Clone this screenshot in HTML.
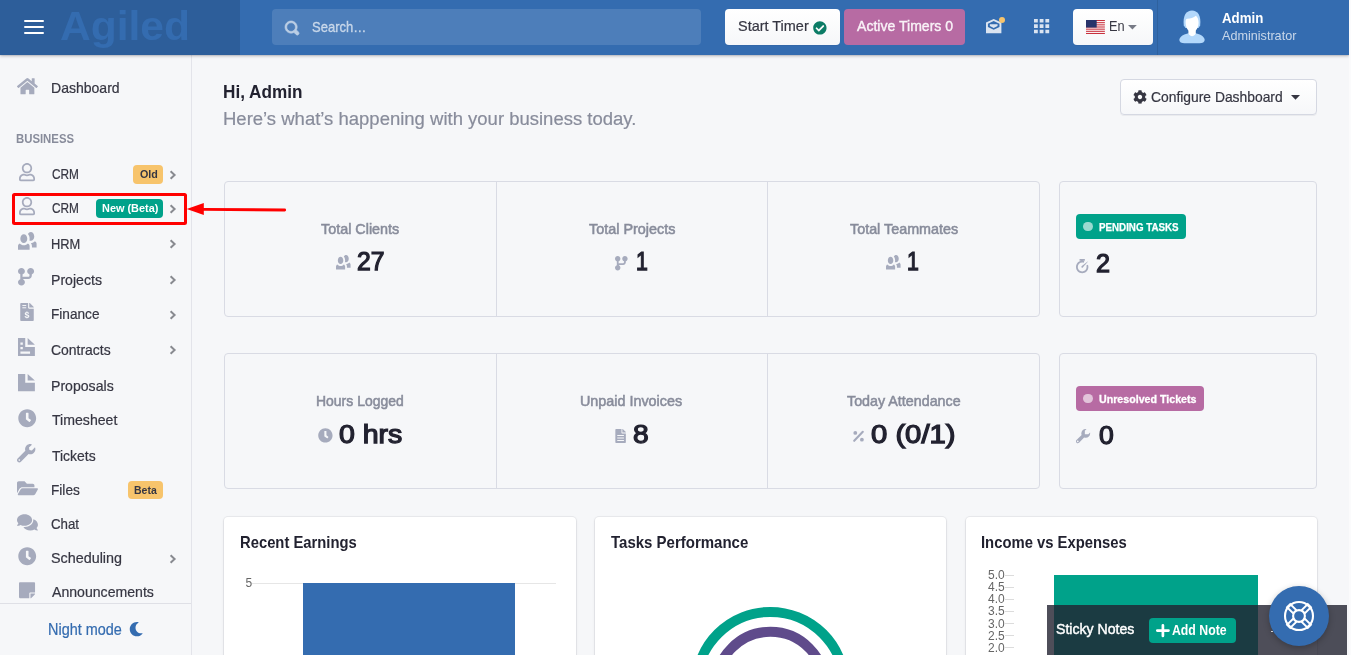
<!DOCTYPE html><html lang="en"><head><meta charset="utf-8"><title>Agiled Dashboard</title><style>
*{box-sizing:border-box}
html,body{margin:0;padding:0;background:#f6f7f9}
body{width:1351px;height:655px;overflow:hidden;font-family:"Liberation Sans",Arial,sans-serif}
#app{position:relative;width:1351px;height:655px;overflow:hidden;background:#f6f7f9;will-change:transform}
#app div,#app svg,#app span{position:absolute}
.t{white-space:nowrap;line-height:1;transform-origin:0 50%;display:block}
.ic{display:block;overflow:visible}
.topbar{left:0;top:0;width:1349px;height:55px;background:#346cb0;box-shadow:0 1px 3px rgba(20,20,31,.28),0 0 0 1px rgba(20,20,31,.05)}
.brand{left:0;top:0;width:240px;height:55px;background:rgba(0,0,0,.12)}
.bar{left:24px;width:20px;height:2px;background:#fff;border-radius:1px}
.search{left:272px;top:9px;width:429px;height:36px;border-radius:4px;background:rgba(255,255,255,.125)}
.btnw{background:linear-gradient(180deg,#fff,#f6f7f9);border-radius:4px;box-shadow:0 1px 0 rgba(20,20,31,.05)}
.card0{border:1px solid #d9dbe4;border-radius:4px}
.vsep{width:1px;background:#d9dbe4}
.cardw{background:#fff;border-radius:4px;box-shadow:0 0 0 1px rgba(20,20,31,.05),0 1px 3px 0 rgba(20,20,31,.1)}
.badge{border-radius:4px}
</style></head><body><div id="app">
<main>
<div class="btnw" style="left:1120px;top:79px;width:197px;height:36px;border:1px solid #d5d8e2"></div>
<svg class="ic" style="left:1132.75px;top:90.00px;width:13.99px;height:13.99px" viewBox="0 0 512 512" preserveAspectRatio="none"><path fill="#363642" d="M487.4 315.7l-42.600-24.600c4.300-23.200 4.300-47 0-70.200l42.600-24.600c4.900-2.800 7.100-8.600 5.500-14-11.100-35.600-30-67.800-54.700-94.600-3.800-4.100-10-5.100-14.800-2.300L380.800 110c-17.900-15.400-38.500-27.300-60.800-35.100V25.800c0-5.600-3.900-10.500-9.400-11.700-36.700-8.200-74.300-7.800-109.200 0-5.500 1.200-9.400 6.100-9.400 11.700V75c-22.200 7.900-42.800 19.800-60.800 35.100L88.700 85.500c-4.900-2.800-11-1.900-14.800 2.300-24.700 26.700-43.600 58.900-54.700 94.600-1.700 5.400.6 11.200 5.500 14L67.300 221c-4.300 23.200-4.300 47 0 70.200l-42.600 24.600c-4.900 2.800-7.100 8.600-5.500 14 11.100 35.600 30 67.800 54.700 94.600 3.800 4.100 10 5.100 14.800 2.300l42.600-24.600c17.900 15.400 38.500 27.300 60.800 35.100v49.200c0 5.600 3.900 10.500 9.400 11.700 36.700 8.200 74.300 7.800 109.200 0 5.500-1.200 9.400-6.100 9.400-11.700v-49.200c22.200-7.900 42.800-19.800 60.800-35.100l42.600 24.600c4.900 2.800 11 1.900 14.800-2.300 24.700-26.700 43.600-58.900 54.700-94.600 1.500-5.500-.7-11.300-5.600-14.100zM256 336c-44.100 0-80-35.900-80-80s35.900-80 80-80 80 35.900 80 80-35.900 80-80 80z"/></svg>
<svg class="ic" style="left:1291px;top:95px;width:9px;height:5px" viewBox="0 0 9 5"><path d="M0 0h9L4.500 4.800z" fill="#363642"/></svg>
<div class="card0" style="left:224px;top:181px;width:816px;height:136px"></div>
<div class="vsep" style="left:496px;top:181px;height:136px"></div>
<div class="vsep" style="left:767px;top:181px;height:136px"></div>
<div class="card0" style="left:1059px;top:181px;width:258px;height:136px"></div>
<div class="card0" style="left:224px;top:353px;width:816px;height:136px"></div>
<div class="vsep" style="left:496px;top:353px;height:136px"></div>
<div class="vsep" style="left:767px;top:353px;height:136px"></div>
<div class="card0" style="left:1059px;top:353px;width:258px;height:136px"></div>
<svg class="ic" style="left:336.20px;top:255.30px;width:14.59px;height:14.59px" viewBox="0 0 8 8" preserveAspectRatio="none"><path fill="#a6abbd" d="M5.5 0c-.51 0-.95.35-1.220.88.45.54.72 1.280.72 2.130 0 .29-.03.55-.09.81.19.11.38.19.59.19.83 0 1.500-.9 1.500-2s-.67-2-1.500-2zm-3 1c-.83 0-1.500.9-1.500 2s.67 2 1.500 2 1.500-.9 1.500-2-.67-2-1.500-2zm4.750 3.160c-.43.51-1.020.82-1.690.84.27.38.44.84.44 1.340v.66h2v-1.660c0-.52-.31-.97-.75-1.190zm-6.500 1c-.44.22-.75.67-.75 1.190v1.660h5v-1.660c0-.52-.31-.97-.75-1.190-.45.53-1.060.84-1.750.84s-1.300-.32-1.750-.84z"/></svg>
<svg class="ic" style="left:614.68px;top:255.71px;width:14.46px;height:14.46px" viewBox="0 0 8 8" preserveAspectRatio="none"><path fill="#a6abbd" d="M1.5 0c-.83 0-1.500.67-1.500 1.500 0 .66.41 1.200 1 1.410v2.190c-.59.2-1 .75-1 1.410 0 .83.67 1.500 1.500 1.500s1.500-.67 1.500-1.500c0-.6-.34-1.100-.84-1.340.09-.09.21-.16.34-.16h2c.82 0 1.500-.68 1.500-1.500v-.59c.59-.2 1-.75 1-1.410 0-.83-.67-1.500-1.500-1.500s-1.500.67-1.500 1.500c0 .66.41 1.200 1 1.410v.59c0 .28-.22.5-.5.5h-2c-.17 0-.35.04-.5.09v-1.190c.59-.2 1-.75 1-1.410 0-.83-.67-1.500-1.500-1.500z"/></svg>
<svg class="ic" style="left:886.20px;top:255.30px;width:14.59px;height:14.59px" viewBox="0 0 8 8" preserveAspectRatio="none"><path fill="#a6abbd" d="M5.5 0c-.51 0-.95.35-1.220.88.45.54.72 1.280.72 2.130 0 .29-.03.55-.09.81.19.11.38.19.59.19.83 0 1.500-.9 1.500-2s-.67-2-1.500-2zm-3 1c-.83 0-1.500.9-1.500 2s.67 2 1.500 2 1.500-.9 1.500-2-.67-2-1.500-2zm4.750 3.160c-.43.51-1.020.82-1.690.84.27.38.44.84.44 1.340v.66h2v-1.660c0-.52-.31-.97-.75-1.190zm-6.500 1c-.44.22-.75.67-.75 1.190v1.660h5v-1.660c0-.52-.31-.97-.75-1.190-.45.53-1.060.84-1.750.84s-1.300-.32-1.750-.84z"/></svg>
<svg class="ic" style="left:1075.95px;top:258.72px;width:14.16px;height:14.16px" viewBox="0 0 8 8" preserveAspectRatio="none"><path fill="#a6abbd" d="M2 0v1h1v.03c-1.700.24-3 1.710-3 3.470 0 1.930 1.570 3.500 3.500 3.500s3.500-1.570 3.500-3.500c0-.45-.1-.87-.25-1.250l-.91.38c.11.29.16.57.16.88 0 1.390-1.110 2.500-2.500 2.500s-2.500-1.110-2.500-2.500 1.110-2.500 2.500-2.500c.3 0 .59.05.88.16l.34-.94c-.24-.09-.47-.16-.72-.19v-.03h1v-1h-3zm5 1.160s-3.650 2.810-3.840 3c-.19.2-.19.49 0 .69.190.2.490.2.690 0 .2-.2 3.160-3.690 3.160-3.690z"/></svg>
<svg class="ic" style="left:318.14px;top:428.09px;width:14.81px;height:14.81px" viewBox="0 0 512 512" preserveAspectRatio="none"><path fill="#a6abbd" d="M256 8C119 8 8 119 8 256s111 248 248 248 248-111 248-248S393 8 256 8zm57.1 350.1L224.9 294c-3.1-2.3-4.9-5.9-4.9-9.7V116c0-6.6 5.4-12 12-12h48c6.6 0 12 5.400 12 12v137.7l63.5 46.2c5.4 3.9 6.5 11.4 2.6 16.8l-28.2 38.800c-3.9 5.3-11.4 6.500-16.8 2.600z"/></svg>
<svg class="ic" style="left:615px;top:428.8px;width:11.2px;height:14px" viewBox="0 0 384 512"><path fill="#a6abbd" d="M224 136V0H24C10.700 0 0 10.700 0 24v464c0 13.300 10.700 24 24 24h336c13.300 0 24-10.700 24-24V160H248c-13.200 0-24-10.800-24-24zm160-14.100v6.100H256V0h6.100c6.400 0 12.500 2.500 17 7l97.900 98c4.500 4.500 7 10.600 7 16.900z"/><path d="M70 240h244M70 330h244M70 420h244" stroke="#f6f7f9" stroke-width="40"/></svg>
<svg class="ic" style="left:853px;top:429.500px;width:11px;height:12px" viewBox="0 0 11 12"><path d="M1.200 10.800L9.800 1.800" stroke="#a6abbd" stroke-width="2.100" stroke-linecap="round"/><circle cx="2.300" cy="2.900" r="1.900" fill="#a6abbd"/><circle cx="8.900" cy="9.700" r="1.900" fill="#a6abbd"/></svg>
<svg class="ic" style="left:1075.79px;top:428.73px;width:14.12px;height:14.12px" viewBox="0 0 8 8" preserveAspectRatio="none"><path fill="#a6abbd" d="M5.5 0c-1.380 0-2.500 1.120-2.500 2.500 0 .32.08.62.19.91l-2.910 2.880c-.39.39-.39 1.050 0 1.440.2.2.46.28.72.28.26 0 .52-.09.72-.28l2.880-2.910c.28.11.58.19.91.19 1.380 0 2.500-1.120 2.500-2.500 0-.16 0-.32-.03-.47l-.97.97h-2v-2l.97-.97c-.15-.03-.31-.03-.47-.03zm-4.500 6.500c.28 0 .5.22.5.5s-.22.5-.5.5-.5-.22-.5-.5.22-.5.5-.5z"/></svg>
<div class="badge" style="left:1076px;top:214px;width:110px;height:25px;background:#00a28a"></div>
<div style="left:1083.200px;top:221.600px;width:9.600px;height:9.600px;border-radius:50%;background:rgba(255,255,255,.6)"></div>
<div class="badge" style="left:1076px;top:386px;width:128px;height:25px;background:#b76ba3"></div>
<div style="left:1083.200px;top:393.600px;width:9.600px;height:9.600px;border-radius:50%;background:rgba(255,255,255,.6)"></div>
<div class="cardw" style="left:224px;top:517px;width:351.500px;height:160px"></div>
<div class="cardw" style="left:595px;top:517px;width:351.200px;height:160px"></div>
<div class="cardw" style="left:965.600px;top:517px;width:351.600px;height:160px"></div>
<div style="left:252px;top:583px;width:304px;height:1px;background:#e6e6e6"></div>
<div style="left:303.300px;top:583px;width:211.500px;height:80px;background:#346cb0"></div>
<svg class="ic" style="left:680px;top:600px;width:180px;height:60px" viewBox="680 600 180 60"><circle cx="770.400" cy="686.100" r="74.200" fill="none" stroke="#00a28a" stroke-width="10"/><circle cx="770.400" cy="686.100" r="54.300" fill="none" stroke="#5f4b8b" stroke-width="10"/></svg>
<div style="left:1005px;top:574.60px;width:9px;height:1px;background:#dcdcdc"></div>
<div style="left:1005px;top:586.63px;width:9px;height:1px;background:#dcdcdc"></div>
<div style="left:1005px;top:598.66px;width:9px;height:1px;background:#dcdcdc"></div>
<div style="left:1005px;top:610.69px;width:9px;height:1px;background:#dcdcdc"></div>
<div style="left:1005px;top:622.72px;width:9px;height:1px;background:#dcdcdc"></div>
<div style="left:1005px;top:634.75px;width:9px;height:1px;background:#dcdcdc"></div>
<div style="left:1005px;top:646.78px;width:9px;height:1px;background:#dcdcdc"></div>
<div style="left:1054px;top:575px;width:204px;height:90px;background:#00a28a"></div>
<span class="t" style="left:223.26px;top:82.70px;font-size:18px;font-weight:700;color:#222230;transform:scaleX(0.9528);">Hi, Admin</span>
<span class="t" style="left:222.99px;top:110.00px;font-size:18px;font-weight:400;color:#888c9b;transform:scaleX(1.0276);-webkit-text-stroke:.2px #888c9b">Here’s what’s happening with your business today.</span>
<span class="t" style="left:1150.96px;top:88.80px;font-size:15px;font-weight:400;color:#363642;transform:scaleX(0.9234);-webkit-text-stroke:.22px #363642">Configure Dashboard</span>
<span class="t" style="left:321.30px;top:221.00px;font-size:15px;font-weight:400;color:#888c9b;transform:scaleX(0.9572);-webkit-text-stroke:.55px #888c9b">Total Clients</span>
<span class="t" style="left:588.70px;top:221.00px;font-size:15px;font-weight:400;color:#888c9b;transform:scaleX(0.9597);-webkit-text-stroke:.55px #888c9b">Total Projects</span>
<span class="t" style="left:849.60px;top:221.00px;font-size:15px;font-weight:400;color:#888c9b;transform:scaleX(0.9564);-webkit-text-stroke:.55px #888c9b">Total Teammates</span>
<span class="t" style="left:316.17px;top:393.00px;font-size:15px;font-weight:400;color:#888c9b;transform:scaleX(0.9309);-webkit-text-stroke:.55px #888c9b">Hours Logged</span>
<span class="t" style="left:580.40px;top:393.00px;font-size:15px;font-weight:400;color:#888c9b;transform:scaleX(0.9569);-webkit-text-stroke:.55px #888c9b">Unpaid Invoices</span>
<span class="t" style="left:846.60px;top:393.00px;font-size:15px;font-weight:400;color:#888c9b;transform:scaleX(0.9529);-webkit-text-stroke:.55px #888c9b">Today Attendance</span>
<span class="t" style="left:356.87px;top:249.40px;font-size:25.5px;font-weight:400;color:#222230;transform:scaleX(0.9690);-webkit-text-stroke:1.25px #222230">27</span>
<span class="t" style="left:635.74px;top:249.40px;font-size:25.5px;font-weight:400;color:#222230;transform:scaleX(0.8350);-webkit-text-stroke:1.25px #222230">1</span>
<span class="t" style="left:906.64px;top:249.40px;font-size:25.5px;font-weight:400;color:#222230;transform:scaleX(0.8350);-webkit-text-stroke:1.25px #222230">1</span>
<span class="t" style="left:1096.36px;top:251.00px;font-size:25.5px;font-weight:400;color:#222230;transform:scaleX(0.9872);-webkit-text-stroke:1.25px #222230">2</span>
<span class="t" style="left:339.32px;top:421.60px;font-size:25.5px;font-weight:400;color:#222230;transform:scaleX(1.1174);-webkit-text-stroke:1.25px #222230">0 hrs</span>
<span class="t" style="left:632.59px;top:421.60px;font-size:25.5px;font-weight:400;color:#222230;transform:scaleX(1.1033);-webkit-text-stroke:1.25px #222230">8</span>
<span class="t" style="left:870.51px;top:421.60px;font-size:25.5px;font-weight:400;color:#222230;transform:scaleX(1.1465);-webkit-text-stroke:1.25px #222230">0 (0/1)</span>
<span class="t" style="left:1098.73px;top:423.00px;font-size:25.5px;font-weight:400;color:#222230;transform:scaleX(1.0404);-webkit-text-stroke:1.25px #222230">0</span>
<span class="t" style="left:1098.95px;top:222.00px;font-size:11.5px;font-weight:700;color:#fff;transform:scaleX(0.8494);-webkit-text-stroke:.25px #fff">PENDING TASKS</span>
<span class="t" style="left:1098.66px;top:394.30px;font-size:11px;font-weight:700;color:#fff;transform:scaleX(0.9678);-webkit-text-stroke:.3px #fff">Unresolved Tickets</span>
<span class="t" style="left:239.70px;top:534.40px;font-size:16.5px;font-weight:700;color:#222230;transform:scaleX(0.8968);">Recent Earnings</span>
<span class="t" style="left:611.24px;top:534.40px;font-size:16.5px;font-weight:700;color:#222230;transform:scaleX(0.9092);">Tasks Performance</span>
<span class="t" style="left:981.10px;top:534.40px;font-size:16.5px;font-weight:700;color:#222230;transform:scaleX(0.8984);">Income vs Expenses</span>
<span class="t" style="left:245.60px;top:576.80px;font-size:12px;font-weight:400;color:#666;">5</span>
<span class="t" style="left:988.00px;top:569.40px;font-size:12px;font-weight:400;color:#666;">5.0</span>
<span class="t" style="left:988.00px;top:581.43px;font-size:12px;font-weight:400;color:#666;">4.5</span>
<span class="t" style="left:988.00px;top:593.46px;font-size:12px;font-weight:400;color:#666;">4.0</span>
<span class="t" style="left:988.00px;top:605.49px;font-size:12px;font-weight:400;color:#666;">3.5</span>
<span class="t" style="left:988.00px;top:617.52px;font-size:12px;font-weight:400;color:#666;">3.0</span>
<span class="t" style="left:988.00px;top:629.55px;font-size:12px;font-weight:400;color:#666;">2.5</span>
<span class="t" style="left:988.00px;top:641.58px;font-size:12px;font-weight:400;color:#666;">2.0</span>
<div style="left:1047px;top:604.700px;width:300px;height:60px;background:rgba(34,34,48,.8)"></div>
<div class="badge" style="left:1149.200px;top:618.100px;width:86.600px;height:24.500px;background:#00a28a"></div>
<svg class="ic" style="left:1157.200px;top:625px;width:11.800px;height:11.200px" viewBox="0 0 11.800 11.200"><path d="M5.900 0.300V10.900M0.300 5.600H11.500" stroke="#fff" stroke-width="2.700" stroke-linecap="round"/></svg>
<span class="t" style="left:1056.45px;top:621.20px;font-size:15.3px;font-weight:400;color:#fff;transform:scaleX(0.9219);-webkit-text-stroke:.45px #fff">Sticky Notes</span>
<span class="t" style="left:1172.21px;top:623.00px;font-size:14px;font-weight:700;color:#fff;transform:scaleX(0.8773);">Add Note</span>
<div style="left:1270.800px;top:630.600px;width:2.200px;height:1.600px;background:#fff;border-radius:1px"></div>
<div style="left:1269px;top:585.800px;width:60px;height:60px;border-radius:50%;background:#346cb0;box-shadow:0 2px 6px rgba(0,0,0,.25)"></div>
<svg class="ic" style="left:1283px;top:600px;width:32px;height:32px" viewBox="-16 -16 32 32"><g fill="none"><path d="M3.96 3.96L11.03 11.03M-3.96 3.96L-11.03 11.03M-3.96 -3.96L-11.03 -11.03M3.96 -3.96L11.03 -11.03" stroke="#fff" stroke-width="6.400"/><path d="M4.81 4.81L9.12 9.12M-4.81 4.81L-9.12 9.12M-4.81 -4.81L-9.12 -9.12M4.81 -4.81L9.12 -9.12" stroke="#346cb0" stroke-width="2.600"/><circle r="14" stroke="#fff" stroke-width="2.100"/><circle r="5.900" stroke="#fff" stroke-width="2.100"/></g></svg>
</main>
<aside>
<div style="left:191px;top:55px;width:1px;height:600px;background:#e3e4ea"></div>
<div style="left:0;top:603px;width:191px;height:1px;background:#dfe0e6"></div>
<svg class="ic" style="left:17.23px;top:76.59px;width:20.84px;height:18.53px" viewBox="0 0 576 512" preserveAspectRatio="none"><path fill="#a6abbd" d="M280.37 148.26L96 300.11V464a16 16 0 0 0 16 16l112.06-.29a16 16 0 0 0 15.92-16V368a16 16 0 0 1 16-16h64a16 16 0 0 1 16 16v95.64a16 16 0 0 0 16 16.05L464 480a16 16 0 0 0 16-16V300L295.67 148.26a12.19 12.19 0 0 0-15.3 0zM571.6 251.47L488 182.56V44.05a12 12 0 0 0-12-12h-56a12 12 0 0 0-12 12v72.61L318.47 43a48 48 0 0 0-61 0L4.34 251.47a12 12 0 0 0-1.6 16.9l25.5 31A12 12 0 0 0 45.15 301l235.22-193.74a12.19 12.19 0 0 1 15.3 0L530.9 301a12 12 0 0 0 16.9-1.6l25.5-31a12 12 0 0 0-1.7-16.93z"/></svg>
<svg class="ic" style="left:19.38px;top:162.89px;width:16.03px;height:18.32px" viewBox="0 0 448 512" preserveAspectRatio="none"><path fill="#a6abbd" d="M313.6 304c-28.700 0-42.500 16-89.600 16-47.100 0-60.800-16-89.600-16C60.200 304 0 364.200 0 438.400V464c0 26.500 21.500 48 48 48h352c26.500 0 48-21.500 48-48v-25.600c0-74.200-60.200-134.400-134.400-134.400zM400 464H48v-25.600c0-47.600 38.800-86.400 86.400-86.400 14.600 0 38.300 16 89.600 16 51.700 0 74.900-16 89.600-16 47.600 0 86.400 38.800 86.400 86.400V464zM224 288c79.500 0 144-64.500 144-144S303.500 0 224 0 80 64.500 80 144s64.500 144 144 144zm0-240c52.900 0 96 43.100 96 96s-43.100 96-96 96-96-43.100-96-96 43.100-96 96-96z"/></svg>
<svg class="ic" style="left:19.38px;top:197.39px;width:16.03px;height:18.32px" viewBox="0 0 448 512" preserveAspectRatio="none"><path fill="#a6abbd" d="M313.6 304c-28.700 0-42.500 16-89.600 16-47.100 0-60.800-16-89.600-16C60.200 304 0 364.200 0 438.400V464c0 26.500 21.500 48 48 48h352c26.500 0 48-21.500 48-48v-25.600c0-74.200-60.200-134.400-134.400-134.400zM400 464H48v-25.600c0-47.600 38.800-86.400 86.400-86.400 14.600 0 38.300 16 89.600 16 51.700 0 74.900-16 89.600-16 47.600 0 86.400 38.800 86.400 86.400V464zM224 288c79.500 0 144-64.500 144-144S303.500 0 224 0 80 64.500 80 144s64.500 144 144 144zm0-240c52.900 0 96 43.100 96 96s-43.100 96-96 96-96-43.100-96-96 43.100-96 96-96z"/></svg>
<svg class="ic" style="left:18.10px;top:232.00px;width:18.60px;height:17.68px" viewBox="0 0 8 8" preserveAspectRatio="none"><path fill="#a6abbd" d="M5.5 0c-.51 0-.95.35-1.220.88.45.54.72 1.280.72 2.130 0 .29-.03.55-.09.81.19.11.38.19.59.19.83 0 1.500-.9 1.500-2s-.67-2-1.500-2zm-3 1c-.83 0-1.500.9-1.500 2s.67 2 1.500 2 1.500-.9 1.500-2-.67-2-1.500-2zm4.750 3.160c-.43.51-1.020.82-1.690.84.27.38.44.84.44 1.340v.66h2v-1.660c0-.52-.31-.97-.75-1.190zm-6.500 1c-.44.22-.75.67-.75 1.190v1.660h5v-1.660c0-.52-.31-.97-.75-1.190-.45.53-1.060.84-1.750.84s-1.300-.32-1.750-.84z"/></svg>
<svg class="ic" style="left:18.10px;top:268.30px;width:18.40px;height:17.48px" viewBox="0 0 8 8" preserveAspectRatio="none"><path fill="#a6abbd" d="M1.5 0c-.83 0-1.500.67-1.500 1.500 0 .66.41 1.200 1 1.410v2.190c-.59.2-1 .75-1 1.410 0 .83.67 1.500 1.500 1.500s1.500-.67 1.500-1.500c0-.6-.34-1.100-.84-1.340.09-.09.21-.16.34-.16h2c.82 0 1.500-.68 1.500-1.500v-.59c.59-.2 1-.75 1-1.410 0-.83-.67-1.500-1.500-1.500s-1.500.67-1.500 1.500c0 .66.41 1.200 1 1.410v.59c0 .28-.22.5-.5.5h-2c-.17 0-.35.04-.5.09v-1.190c.59-.2 1-.75 1-1.410 0-.83-.67-1.500-1.500-1.500z"/></svg>
<svg class="ic" style="left:20.400px;top:302.800px;width:14px;height:18px" viewBox="0 0 384 512"><path fill="#a6abbd" d="M224 136V0H24C10.700 0 0 10.700 0 24v464c0 13.300 10.700 24 24 24h336c13.300 0 24-10.700 24-24V160H248c-13.200 0-24-10.800-24-24zm160-14.100v6.100H256V0h6.100c6.400 0 12.500 2.500 17 7l97.900 98c4.500 4.500 7 10.600 7 16.900z"/><path d="M60 72h110M60 136h110" stroke="#f6f7f9" stroke-width="28"/><text x="192" y="430" font-size="250" font-weight="700" text-anchor="middle" fill="#f6f7f9" font-family="Liberation Sans,Arial,sans-serif">$</text></svg>
<svg class="ic" style="left:17.90px;top:337.80px;width:19.31px;height:18.10px" viewBox="0 0 8 8" preserveAspectRatio="none"><path fill="#a6abbd" d="M0 0v8h7v-4h-4v-4h-3zm4 0v3h3l-3-3zm-3 2h1v1h-1v-1zm0 2h1v1h-1v-1zm0 2h4v1h-4v-1z"/></svg>
<svg class="ic" style="left:17.60px;top:374.20px;width:19.31px;height:17.30px" viewBox="0 0 8 8" preserveAspectRatio="none"><path fill="#a6abbd" d="M0 0v8h7v-4h-4v-4h-3zm4 0v3h3l-3-3z"/></svg>
<svg class="ic" style="left:18.04px;top:409.09px;width:18.43px;height:18.43px" viewBox="0 0 512 512" preserveAspectRatio="none"><path fill="#a6abbd" d="M256 8C119 8 8 119 8 256s111 248 248 248 248-111 248-248S393 8 256 8zm57.1 350.1L224.9 294c-3.1-2.3-4.9-5.9-4.9-9.7V116c0-6.6 5.4-12 12-12h48c6.6 0 12 5.400 12 12v137.7l63.5 46.2c5.4 3.9 6.5 11.4 2.6 16.8l-28.2 38.800c-3.9 5.3-11.4 6.500-16.8 2.600z"/></svg>
<svg class="ic" style="left:17.15px;top:443.75px;width:18.40px;height:18.40px" viewBox="0 0 512 512" preserveAspectRatio="none"><path fill="#a6abbd" d="M507.73 109.1c-2.24-9.03-13.54-12.09-20.12-5.51l-74.36 74.36-67.88-11.31-11.31-67.88 74.36-74.36c6.62-6.62 3.430-17.9-5.66-20.16-47.38-11.74-99.55.91-136.58 37.93-39.64 39.64-50.55 97.1-34.05 147.2L18.74 402.76c-24.99 24.99-24.99 65.51 0 90.5 24.99 24.99 65.51 24.99 90.5 0l213.21-213.21c50.12 16.71 107.47 5.68 147.37-34.22 37.07-37.07 49.7-89.32 37.91-136.730zM64 472c-13.25 0-24-10.75-24-24 0-13.26 10.75-24 24-24s24 10.74 24 24c0 13.25-10.75 24-24 24z"/></svg>
<svg class="ic" style="left:17.03px;top:478.89px;width:20.95px;height:18.62px" viewBox="0 0 576 512" preserveAspectRatio="none"><path fill="#a6abbd" d="M572.694 292.093L500.27 416.248A63.997 63.997 0 0 1 444.989 448H45.025c-18.523 0-30.064-20.093-20.731-36.093l72.424-124.155A64 64 0 0 1 152 256h399.964c18.523 0 30.064 20.093 20.73 36.093zM152 224h328v-48c0-26.51-21.49-48-48-48H272l-64-64H48C21.49 64 0 85.49 0 112v278.046l69.077-118.418C86.214 242.25 117.989 224 152 224z"/></svg>
<svg class="ic" style="left:17.02px;top:512.74px;width:20.95px;height:18.62px" viewBox="0 0 576 512" preserveAspectRatio="none"><path fill="#a6abbd" d="M416 192c0-88.4-93.1-160-208-160S0 103.600 0 192c0 34.300 14.100 65.900 38 92-13.400 30.200-35.500 54.200-35.800 54.500-2.200 2.300-2.800 5.700-1.500 8.700S4.800 352 8 352c36.600 0 66.900-12.300 88.700-25 32.200 15.700 70.300 25 111.300 25 114.900 0 208-71.600 208-160zm122 220c23.900-26 38-57.700 38-92 0-66.900-53.500-124.200-129.300-148.100.9 6.600 1.300 13.300 1.300 20.100 0 105.900-107.700 192-240 192-10.800 0-21.300-.8-31.700-1.900C207.800 439.600 281.800 480 368 480c41 0 79.100-9.200 111.300-25 21.800 12.700 52.100 25 88.700 25 3.200 0 6.100-1.900 7.300-4.800 1.300-2.900.7-6.300-1.500-8.700-.3-.3-22.400-24.200-35.800-54.500z"/></svg>
<svg class="ic" style="left:18.04px;top:546.89px;width:18.43px;height:18.43px" viewBox="0 0 512 512" preserveAspectRatio="none"><path fill="#a6abbd" d="M256 8C119 8 8 119 8 256s111 248 248 248 248-111 248-248S393 8 256 8zm57.1 350.1L224.9 294c-3.1-2.3-4.9-5.9-4.9-9.7V116c0-6.6 5.4-12 12-12h48c6.6 0 12 5.400 12 12v137.7l63.5 46.2c5.4 3.9 6.5 11.4 2.6 16.8l-28.2 38.800c-3.9 5.3-11.4 6.500-16.8 2.600z"/></svg>
<svg class="ic" style="left:19.47px;top:581.18px;width:16.05px;height:18.34px" viewBox="0 0 448 512" preserveAspectRatio="none"><path fill="#a6abbd" d="M312 320h136V56c0-13.300-10.700-24-24-24H24C10.700 32 0 42.700 0 56v400c0 13.300 10.700 24 24 24h264V344c0-13.200 10.800-24 24-24zm129 55l-98 98c-4.500 4.500-10.600 7-17 7h-6V352h128v6.100c0 6.300-2.500 12.400-7 16.900z"/></svg>
<svg class="ic" style="left:129.01px;top:622.41px;width:14.37px;height:14.37px" viewBox="0 0 512 512" preserveAspectRatio="none"><path fill="#346cb0" d="M283.211 512c78.962 0 151.079-35.925 198.857-94.792 7.068-8.708-.639-21.43-11.562-19.35-124.203 23.654-238.262-71.576-238.262-196.954 0-72.222 38.662-138.635 101.498-174.394 9.686-5.512 7.25-20.197-3.756-22.23A258.156 258.156 0 0 0 283.211 0c-141.309 0-256 114.511-256 256 0 141.309 114.511 256 256 256z"/></svg>
<div class="badge" style="left:133px;top:164.600px;width:30px;height:19.200px;background:#f7c46c"></div>
<div class="badge" style="left:96px;top:199.200px;width:67px;height:18.900px;background:#00a28a"></div>
<div class="badge" style="left:128px;top:480.800px;width:35px;height:18.700px;background:#f7c46c"></div>
<svg class="ic" style="left:167px;top:168.50px;width:12px;height:12px" viewBox="0 0 12 12"><path d="M3.6 2.2 L7.6 6 L3.6 9.800" fill="none" stroke="#888a90" stroke-width="2" stroke-linecap="butt" stroke-linejoin="miter"/></svg>
<svg class="ic" style="left:167px;top:202.70px;width:12px;height:12px" viewBox="0 0 12 12"><path d="M3.6 2.2 L7.6 6 L3.6 9.800" fill="none" stroke="#888a90" stroke-width="2" stroke-linecap="butt" stroke-linejoin="miter"/></svg>
<svg class="ic" style="left:167px;top:238.00px;width:12px;height:12px" viewBox="0 0 12 12"><path d="M3.6 2.2 L7.6 6 L3.6 9.800" fill="none" stroke="#888a90" stroke-width="2" stroke-linecap="butt" stroke-linejoin="miter"/></svg>
<svg class="ic" style="left:167px;top:274.40px;width:12px;height:12px" viewBox="0 0 12 12"><path d="M3.6 2.2 L7.6 6 L3.6 9.800" fill="none" stroke="#888a90" stroke-width="2" stroke-linecap="butt" stroke-linejoin="miter"/></svg>
<svg class="ic" style="left:167px;top:308.60px;width:12px;height:12px" viewBox="0 0 12 12"><path d="M3.6 2.2 L7.6 6 L3.6 9.800" fill="none" stroke="#888a90" stroke-width="2" stroke-linecap="butt" stroke-linejoin="miter"/></svg>
<svg class="ic" style="left:167px;top:344.40px;width:12px;height:12px" viewBox="0 0 12 12"><path d="M3.6 2.2 L7.6 6 L3.6 9.800" fill="none" stroke="#888a90" stroke-width="2" stroke-linecap="butt" stroke-linejoin="miter"/></svg>
<svg class="ic" style="left:167px;top:552.50px;width:12px;height:12px" viewBox="0 0 12 12"><path d="M3.6 2.2 L7.6 6 L3.6 9.800" fill="none" stroke="#888a90" stroke-width="2" stroke-linecap="butt" stroke-linejoin="miter"/></svg>
<span class="t" style="left:51.03px;top:80.20px;font-size:15px;font-weight:400;color:#363642;transform:scaleX(0.9351);-webkit-text-stroke:.22px #363642">Dashboard</span>
<span class="t" style="left:15.92px;top:133.00px;font-size:12.5px;font-weight:700;color:#888c9b;transform:scaleX(0.9079);">BUSINESS</span>
<span class="t" style="left:51.54px;top:165.80px;font-size:15px;font-weight:400;color:#363642;transform:scaleX(0.7877);-webkit-text-stroke:.22px #363642">CRM</span>
<span class="t" style="left:51.54px;top:200.00px;font-size:15px;font-weight:400;color:#363642;transform:scaleX(0.7877);-webkit-text-stroke:.22px #363642">CRM</span>
<span class="t" style="left:51.11px;top:235.90px;font-size:15px;font-weight:400;color:#363642;transform:scaleX(0.8575);-webkit-text-stroke:.22px #363642">HRM</span>
<span class="t" style="left:51.03px;top:271.70px;font-size:15px;font-weight:400;color:#363642;transform:scaleX(0.9409);-webkit-text-stroke:.22px #363642">Projects</span>
<span class="t" style="left:51.06px;top:305.90px;font-size:15px;font-weight:400;color:#363642;transform:scaleX(0.9089);-webkit-text-stroke:.22px #363642">Finance</span>
<span class="t" style="left:51.46px;top:341.70px;font-size:15px;font-weight:400;color:#363642;transform:scaleX(0.9293);-webkit-text-stroke:.22px #363642">Contracts</span>
<span class="t" style="left:51.03px;top:377.50px;font-size:15px;font-weight:400;color:#363642;transform:scaleX(0.9396);-webkit-text-stroke:.22px #363642">Proposals</span>
<span class="t" style="left:51.88px;top:411.50px;font-size:15px;font-weight:400;color:#363642;transform:scaleX(0.9410);-webkit-text-stroke:.22px #363642">Timesheet</span>
<span class="t" style="left:51.88px;top:447.60px;font-size:15px;font-weight:400;color:#363642;transform:scaleX(0.9288);-webkit-text-stroke:.22px #363642">Tickets</span>
<span class="t" style="left:51.06px;top:481.50px;font-size:15px;font-weight:400;color:#363642;transform:scaleX(0.9095);-webkit-text-stroke:.22px #363642">Files</span>
<span class="t" style="left:51.48px;top:515.70px;font-size:15px;font-weight:400;color:#363642;transform:scaleX(0.8858);-webkit-text-stroke:.22px #363642">Chat</span>
<span class="t" style="left:51.30px;top:549.80px;font-size:15px;font-weight:400;color:#363642;transform:scaleX(0.9568);-webkit-text-stroke:.22px #363642">Scheduling</span>
<span class="t" style="left:51.95px;top:583.50px;font-size:15px;font-weight:400;color:#363642;transform:scaleX(0.9398);-webkit-text-stroke:.22px #363642">Announcements</span>
<span class="t" style="left:139.64px;top:169.10px;font-size:11px;font-weight:700;color:#363642;transform:scaleX(0.9758);">Old</span>
<span class="t" style="left:101.65px;top:202.70px;font-size:11px;font-weight:700;color:#fff;transform:scaleX(0.9914);">New (Beta)</span>
<span class="t" style="left:133.77px;top:484.80px;font-size:11px;font-weight:700;color:#363642;transform:scaleX(0.9554);">Beta</span>
<span class="t" style="left:47.51px;top:622.00px;font-size:16px;font-weight:400;color:#346cb0;transform:scaleX(0.9018);-webkit-text-stroke:.22px #346cb0">Night mode</span>
</aside>
<header>
<div class="topbar"></div><div class="brand"></div>
<div class="bar" style="top:20px"></div>
<div class="bar" style="top:26px"></div>
<div class="bar" style="top:32px"></div>
<div class="search"></div>
<svg class="ic" style="left:284.88px;top:20.84px;width:13.92px;height:13.92px" viewBox="0 0 8 8" preserveAspectRatio="none"><path stroke="#bbcee5" stroke-width=".35" fill="#bbcee5" d="M3.5 0c-1.93 0-3.5 1.57-3.5 3.5s1.570 3.5 3.5 3.5c.59 0 1.170-.14 1.660-.41a1 1 0 0 0 .13.13l1 1a1.020 1.020 0 1 0 1.440-1.440l-1-1a1 1 0 0 0-.16-.13c.27-.49.44-1.060.44-1.660 0-1.930-1.570-3.500-3.500-3.500zm0 1c1.390 0 2.500 1.110 2.500 2.500 0 .66-.24 1.270-.66 1.720-.01.01-.02.02-.03.03a1 1 0 0 0-.13.13c-.44.4-1.040.63-1.690.63-1.390 0-2.500-1.110-2.500-2.500s1.110-2.500 2.500-2.500z"/></svg>
<div class="btnw" style="left:725px;top:9px;width:115px;height:36px"></div>
<svg class="ic" style="left:812.81px;top:21.06px;width:13.78px;height:13.78px" viewBox="0 0 512 512" preserveAspectRatio="none"><path fill="#0c7c66" d="M504 256c0 136.967-111.033 248-248 248S8 392.967 8 256 119.033 8 256 8s248 111.033 248 248zM227.314 387.314l184-184c6.248-6.248 6.248-16.379 0-22.627l-22.627-22.627c-6.248-6.249-16.379-6.249-22.628 0L216 308.118l-70.059-70.059c-6.248-6.248-16.379-6.248-22.628 0l-22.627 22.627c-6.248 6.248-6.248 16.379 0 22.627l104 104c6.249 6.249 16.379 6.249 22.628.001z"/></svg>
<div style="left:844px;top:9px;width:121px;height:36px;border-radius:4px;background:#b76ba3"></div>
<svg class="ic" style="left:985.80px;top:18.80px;width:15.40px;height:14.20px" viewBox="0 0 8 8" preserveAspectRatio="none"><path fill="rgba(255,255,255,.82)" d="M4 0l-4 2v6h8v-6l-4-2zm0 1.130l3 1.500v1.880l-3 1.500-3-1.500v-1.880l3-1.500zm-2 1.880v1l2 1 2-1v-1h-4z"/></svg>
<div style="left:999px;top:16.700px;width:6.400px;height:6.400px;border-radius:50%;background:#f7c46c"></div>
<svg class="ic" style="left:1033.90px;top:18.80px;width:15.20px;height:14.30px" viewBox="0 0 8 8" preserveAspectRatio="none"><path fill="rgba(255,255,255,.82)" d="M0 0v2h2v-2h-2zm3 0v2h2v-2h-2zm3 0v2h2v-2h-2zm-6 3v2h2v-2h-2zm3 0v2h2v-2h-2zm3 0v2h2v-2h-2zm-6 3v2h2v-2h-2zm3 0v2h2v-2h-2zm3 0v2h2v-2h-2z"/></svg>
<div class="btnw" style="left:1073px;top:9px;width:80px;height:36px"></div>
<svg class="ic" style="left:1086.100px;top:20px;width:18.900px;height:14px" viewBox="0 0 38 26" preserveAspectRatio="none"><rect width="38" height="26" fill="#fff"/><rect y="0" width="38" height="2" fill="#c8313e"/><rect y="4" width="38" height="2" fill="#c8313e"/><rect y="8" width="38" height="2" fill="#c8313e"/><rect y="12" width="38" height="2" fill="#c8313e"/><rect y="16" width="38" height="2" fill="#c8313e"/><rect y="20" width="38" height="2" fill="#c8313e"/><rect y="24" width="38" height="2" fill="#c8313e"/><rect width="21.500" height="14" fill="#28336a"/></svg>
<svg class="ic" style="left:1128.400px;top:24.900px;width:8.800px;height:4.400px" viewBox="0 0 9 4.500"><path d="M0 0h9L4.500 4.500z" fill="#777a86"/></svg>
<div style="left:1157px;top:0;width:1px;height:55px;background:rgba(0,0,0,.1)"></div>
<svg class="ic" style="left:1177px;top:9px;width:30px;height:36px" viewBox="1177 9 30 36"><path d="M1183.800 25.500C1182.600 15 1186.500 10.400 1192 10.400C1197.500 10.400 1201.300 15 1200.200 25.500L1198.500 28L1185.500 28Z" fill="#b3d8fb"/><path d="M1179.300 40C1179.300 36.200 1185.500 33.500 1189 33.500L1195.200 33.500C1198.700 33.500 1204.700 36.200 1204.700 40C1204.700 42 1202.500 43.300 1199.500 43.300L1184.500 43.300C1181.500 43.300 1179.300 42 1179.300 40Z" fill="#b3d8fb"/><path d="M1188.400 28.500L1188.400 33.600C1189.400 35.400 1190.900 36.300 1192.100 36.300C1193.300 36.300 1194.800 35.400 1195.800 33.600L1195.800 28.500Z" fill="#fff"/><path d="M1185.600 22.500C1185.600 19.800 1186 18.900 1187.200 18.700C1190.500 18.500 1193.600 17.600 1195.900 15.700C1197.600 17 1198.600 19.500 1198.600 22.500C1198.600 27.500 1195.900 32 1192.100 32C1188.300 32 1185.600 27.500 1185.600 22.500Z" fill="#fff"/></svg>
<span class="t" style="left:59.89px;top:5.80px;font-size:40px;font-weight:700;color:#346cb0;transform:scaleX(1.0637);">Agiled</span>
<span class="t" style="left:312.05px;top:19.40px;font-size:15px;font-weight:400;color:rgba(255,255,255,.62);transform:scaleX(0.8691);-webkit-text-stroke:.4px rgba(255,255,255,.5)">Search…</span>
<span class="t" style="left:737.60px;top:18.10px;font-size:15px;font-weight:400;color:#363642;transform:scaleX(0.9643);-webkit-text-stroke:.22px #363642">Start Timer</span>
<span class="t" style="left:856.50px;top:18.10px;font-size:15px;font-weight:400;color:rgba(255,255,255,.88);transform:scaleX(0.9373);-webkit-text-stroke:.45px rgba(255,255,255,.8)">Active Timers 0</span>
<span class="t" style="left:1108.66px;top:18.30px;font-size:15px;font-weight:400;color:#363642;transform:scaleX(0.8500);">En</span>
<span class="t" style="left:1221.97px;top:10.40px;font-size:15px;font-weight:700;color:#fff;transform:scaleX(0.8856);">Admin</span>
<span class="t" style="left:1222.27px;top:28.50px;font-size:13.5px;font-weight:400;color:rgba(255,255,255,.72);transform:scaleX(0.9353);">Administrator</span>
</header>
<div style="left:11.700px;top:193.400px;width:175.500px;height:31.800px;border:3px solid #f00;border-radius:2.500px"></div>
<svg class="ic" style="left:185px;top:200px;width:105px;height:20px" viewBox="185 200 105 20"><path d="M203 209.300L284.700 210" stroke="#f00" stroke-width="2.800" stroke-linecap="round"/><path d="M186.700 209L203.800 203v12z" fill="#f00"/></svg>
<div style="left:1349px;top:0;width:2px;height:655px;background:#fbfbfc"></div>
</div></body></html>
